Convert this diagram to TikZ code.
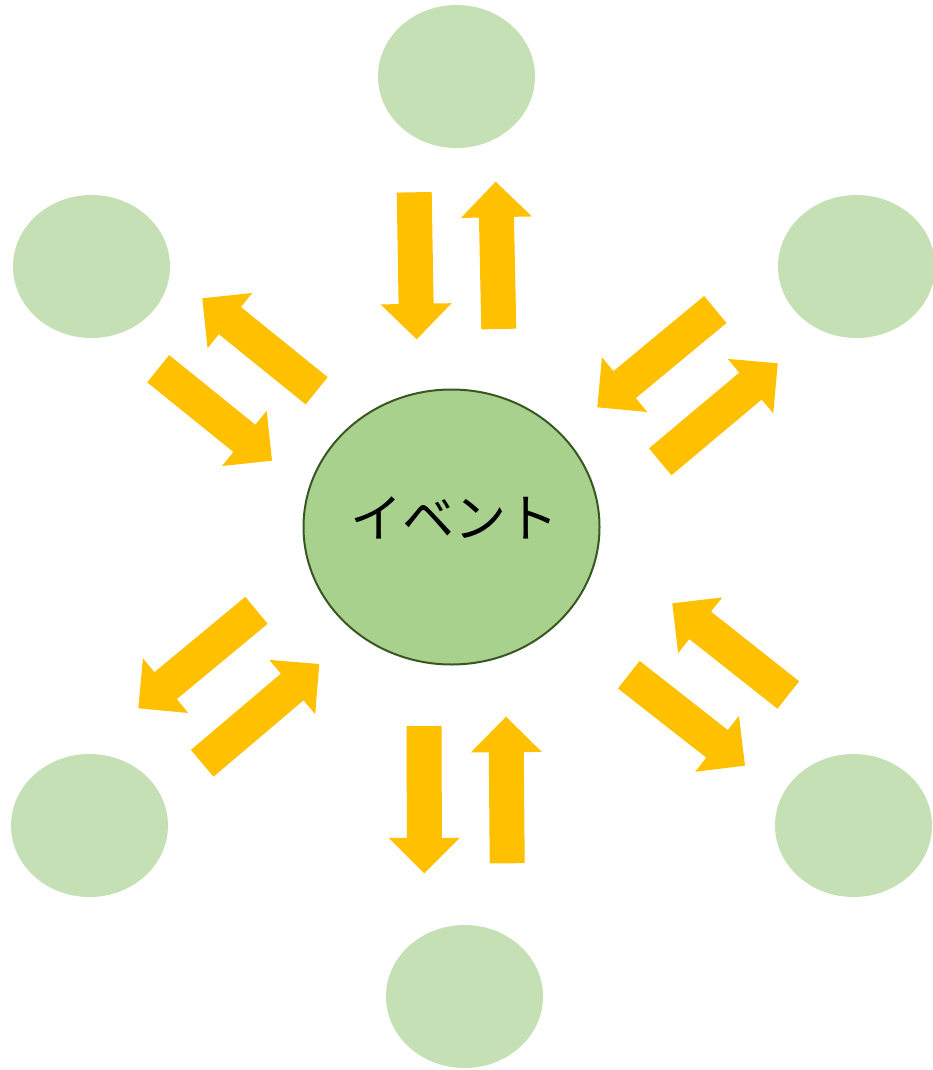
\documentclass[tikz,border=0pt]{standalone}
\usepackage{fontspec}
\newfontfamily\jpfont{Noto Sans CJK JP}
\usetikzlibrary{shapes.geometric}
\definecolor{outerfill}{HTML}{C5E0B4}
\definecolor{centerfill}{HTML}{A9D18E}
\definecolor{centerline}{HTML}{385723}
\definecolor{arrowfill}{HTML}{FFC000}
\newcommand\blockarr[4]{%
  \pgfmathsetmacro\baang{atan2(#2-#4,#3-#1)}%
  \pgfmathsetmacro\balen{veclen(#3-#1,#4-#2)}%
  \fill[arrowfill,shift={(#1,#2)},rotate=\baang]
    (0,-17.5) -- ({\balen-35.5},-17.5) -- ({\balen-35.5},-35.5) -- (\balen,0)
    -- ({\balen-35.5},35.5) -- ({\balen-35.5},17.5) -- (0,17.5) -- cycle;}
\tikzset{
  outer/.style={ellipse, fill=outerfill, minimum width=157pt, minimum height=143pt, inner sep=0pt},
  event/.style={ellipse, fill=centerfill, draw=centerline, line width=2pt, minimum width=296pt, minimum height=275pt, inner sep=0pt},
  lbl/.style={font=\jpfont\fontsize{52}{52}\selectfont, text=black, inner sep=0pt}
}
\begin{document}
\begin{tikzpicture}[x=1pt,y=-1pt]
\useasboundingbox (0,0) rectangle (932,1070);
\node[outer] (n1) at (456.5,76.5) {};
\node[outer] (n2) at (91.5,266.5) {};
\node[outer] (n3) at (856.5,266.5) {};
\node[outer] (n4) at (89.5,825.5) {};
\node[outer] (n5) at (853.5,825.5) {};
\node[outer] (n6) at (464.5,996.5) {};
\node[event] (ev) at (451.5,527) {};
\node[lbl] (evl) at (454,518) {イベント};
\blockarr{414.2}{192.3}{416.7}{339.3}
\blockarr{498.8}{329}{495.7}{181.7}
\blockarr{316.7}{390.8}{202.3}{298.3}
\blockarr{158.2}{368.7}{272}{460.7}
\blockarr{715.3}{309.5}{597.3}{407.3}
\blockarr{660.2}{461.8}{777.7}{363.3}
\blockarr{256.5}{610.3}{138.3}{708.3}
\blockarr{202.2}{763.3}{319.3}{664}
\blockarr{788.3}{695}{672.3}{603.3}
\blockarr{628.8}{674.7}{745}{765.7}
\blockarr{424.2}{726}{424.3}{873.3}
\blockarr{507.2}{863.3}{506}{716.7}
\end{tikzpicture}
\end{document}
